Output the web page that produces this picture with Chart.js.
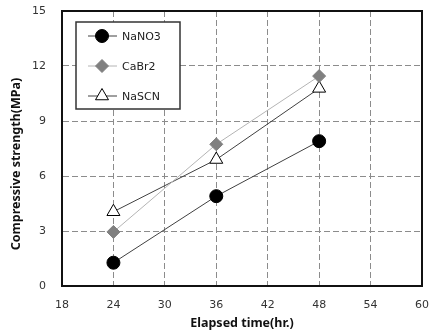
<!DOCTYPE html>
<html>
<head>
<meta charset="utf-8">
<script src="https://cdn.jsdelivr.net/npm/chart.js@4"></script>
<style>
  html, body { margin: 0; padding: 0; background: #fff; }
  #wrap { width: 431px; height: 336px; }
</style>
</head>
<body>
<div id="wrap"><canvas id="chart" width="431" height="336"></canvas></div>
<script>
// dati
const hours = [24, 36, 48];
const nano3 = [1.27, 4.9, 7.9];
const cabr2 = [2.95, 7.73, 11.45];
const nascn = [4.05, 6.9, 10.78];
const xTicks = [18, 24, 30, 36, 42, 48, 54, 60];
const yTicks = [0, 3, 6, 9, 12, 15];
const yTitle = "Compressive strength(MPa)";

const pts = arr => hours.map((h, i) => ({ x: h, y: arr[i] }));

const series = [
  { label: "NaNO3", data: pts(nano3), borderColor: "#404040", backgroundColor: "#000",
    pointStyle: "circle", pointRadius: 6.5, pointBorderColor: "#000" },
  { label: "CaBr2", data: pts(cabr2), borderColor: "#b4b4b4", backgroundColor: "#808080",
    pointStyle: "rectRot", pointRadius: 6.5, pointBorderColor: "#808080" },
  { label: "NaSCN", data: pts(nascn), borderColor: "#404040", backgroundColor: "#fff",
    pointStyle: "triangle", pointRadius: 7.5, pointBorderColor: "#000" }
];

// legenda disegnata dentro l'area del grafico
const boxLegend = {
  id: "boxLegend",
  afterDatasetsDraw(chart) {
    const ctx = chart.ctx;
    const x0 = 76, y0 = 22, w = 104, h = 87;
    ctx.save();
    ctx.fillStyle = "#fff";
    ctx.fillRect(x0, y0, w, h);
    ctx.strokeStyle = "#333";
    ctx.lineWidth = 1.5;
    ctx.strokeRect(x0, y0, w, h);
    const rows = [36, 66, 96];
    series.forEach((s, i) => {
      const y = rows[i];
      ctx.strokeStyle = s.borderColor;
      ctx.lineWidth = 1;
      ctx.beginPath();
      ctx.moveTo(88, y);
      ctx.lineTo(117, y);
      ctx.stroke();
      ctx.fillStyle = s.backgroundColor;
      ctx.strokeStyle = s.pointBorderColor;
      Chart.helpers.drawPoint(ctx, {
        pointStyle: s.pointStyle, radius: s.pointRadius, borderWidth: 1
      }, 102, y);
      ctx.fillStyle = "#222";
      ctx.font = "11px 'DejaVu Sans'";
      ctx.textBaseline = "middle";
      ctx.textAlign = "left";
      ctx.fillText(s.label, 122, y + 1);
    });
    ctx.restore();
  }
};

// titolo asse y (un po' più in basso del centro, come nell'originale)
const yAxisTitle = {
  id: "yAxisTitle",
  afterDraw(chart) {
    const ctx = chart.ctx;
    ctx.save();
    ctx.translate(16, 164);
    ctx.rotate(-Math.PI / 2);
    ctx.fillStyle = "#111";
    ctx.font = "bold 12.5px 'Noto Sans'";
    ctx.textAlign = "center";
    ctx.textBaseline = "middle";
    ctx.fillText(yTitle, 0, 0);
    ctx.restore();
  }
};

new Chart(document.getElementById("chart"), {
  type: "line",
  data: {
    datasets: series.map(s => ({
      ...s,
      borderWidth: 1,
      pointBorderWidth: 1,
      pointHoverRadius: s.pointRadius,
      fill: false,
      tension: 0
    }))
  },
  options: {
    responsive: false,
    animation: false,
    layout: { padding: { top: 11, right: 9, left: 0, bottom: 0 } },
    plugins: { legend: { display: false }, tooltip: { enabled: false } },
    scales: {
      x: {
        type: "linear",
        min: 18, max: 60,
        afterBuildTicks: s => { s.ticks = xTicks.map(v => ({ value: v })); },
        afterFit: s => { s.height = 50; s.paddingLeft = 0; s.paddingRight = 0; },
        grid: { color: "#8c8c8c", drawTicks: false },
        border: { color: "#111", width: 2, dash: [6, 3] },
        ticks: { color: "#333", padding: 13, font: { family: "DejaVu Sans", size: 11 } },
        title: { display: true, text: "Elapsed time(hr.)", color: "#111",
          padding: { top: 0, bottom: 5 },
          font: { family: "Noto Sans", size: 12.5, weight: "bold" } }
      },
      y: {
        min: 0, max: 15,
        afterBuildTicks: s => { s.ticks = yTicks.map(v => ({ value: v })); },
        afterFit: s => { s.width = 62; s.paddingTop = 0; s.paddingBottom = 0; },
        grid: { color: "#8c8c8c", drawTicks: false },
        border: { color: "#111", width: 2, dash: [6, 3] },
        ticks: { color: "#333", padding: 16, font: { family: "DejaVu Sans", size: 11 } }
      }
    }
  },
  plugins: [{
    // cornice piena attorno all'area
    id: "frame",
    afterDraw(chart) {
      const a = chart.chartArea, ctx = chart.ctx;
      ctx.save();
      ctx.strokeStyle = "#111";
      ctx.lineWidth = 2;
      ctx.strokeRect(a.left, a.top, a.right - a.left, a.bottom - a.top);
      ctx.restore();
    }
  }, boxLegend, yAxisTitle]
});
</script>
</body>
</html>
